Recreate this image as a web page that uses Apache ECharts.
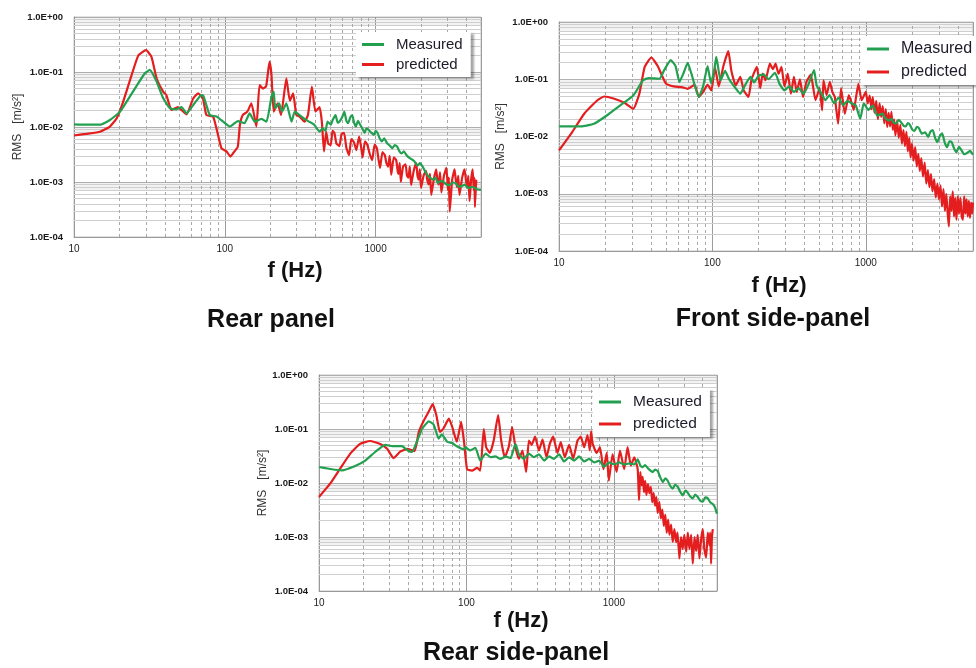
<!DOCTYPE html>
<html lang="en">
<head>
  <meta charset="UTF-8">
  <title>RMS spectra</title>
  <style>
    html,
    body {
      padding: 0;
      margin: 0;
      background: #fff;
    }
  </style>
  <script src="https://cdn.jsdelivr.net/npm/echarts@6.0.0/dist/echarts.min.js"></script>
</head>
<body>
  <div id="demo" style="width:976px;height:668px"></div>
  <script>
    // [f (Hz), RMS (m/s2)]
    const rearMeasured = [[10, 0.0112], [12, 0.011], [14.9, 0.011], [17.3, 0.0134], [20.2, 0.019], [24.6, 0.044], [29.5, 0.095], [31.8, 0.109], [35.3, 0.067], [38.9, 0.034], [43.2, 0.022], [47.9, 0.021], [51.7, 0.023], [55.7, 0.0177], [61.7, 0.025], [66, 0.032], [70, 0.038], [72, 0.037], [75.5, 0.025], [79.5, 0.0165], [88, 0.0155], [97.5, 0.0125], [107.8, 0.0102], [116, 0.0117], [122, 0.0128], [135, 0.0117], [146, 0.0177], [158, 0.0125], [175, 0.014], [189, 0.0125], [204, 0.0355], [211, 0.044], [216, 0.022], [229, 0.027], [240, 0.019], [256, 0.027], [277, 0.0125], [291, 0.019], [313, 0.0165], [338, 0.014], [362, 0.0125], [392, 0.011], [425, 0.0082], [446, 0.0095], [465, 0.0085], [480, 0.0125], [505, 0.011], [520, 0.0135], [543, 0.0165], [560, 0.012], [575, 0.0125], [600, 0.015], [620, 0.019], [640, 0.013], [656, 0.0117], [680, 0.015], [700, 0.0165], [720, 0.012], [740, 0.0102], [765, 0.013], [790, 0.011], [820, 0.0092], [845, 0.0078], [870, 0.0095], [900, 0.0088], [940, 0.0078], [975, 0.0072], [1000, 0.0085], [1030, 0.0078], [1065, 0.0062], [1100, 0.0055], [1140, 0.0062], [1190, 0.0051], [1240, 0.0046], [1290, 0.0041], [1340, 0.0047], [1390, 0.0044], [1440, 0.0036], [1490, 0.0033], [1540, 0.0036], [1600, 0.0031], [1660, 0.0028], [1730, 0.0026], [1800, 0.0024], [1900, 0.002], [1970, 0.0022], [2050, 0.0019], [2120, 0.0016], [2200, 0.00135], [2300, 0.0012], [2400, 0.0011], [2500, 0.0012], [2580, 0.00095], [2700, 0.00105], [2830, 0.001], [2950, 0.0009], [3100, 0.00088], [3250, 0.00098], [3400, 0.00095], [3550, 0.00082], [3750, 0.00085], [3900, 0.0009], [4100, 0.00078], [4400, 0.00082], [4700, 0.00074], [5000, 0.00072]]
    const rearPredicted = [[10, 0.007], [12, 0.0075], [14.9, 0.0082], [17.3, 0.0102], [19.2, 0.0144], [21.2, 0.029], [24.1, 0.088], [26.7, 0.2], [30, 0.25], [32.6, 0.19], [35.3, 0.077], [39, 0.044], [41, 0.038], [44.3, 0.0204], [48.8, 0.023], [55.7, 0.017], [61.7, 0.033], [66.5, 0.041], [71.6, 0.033], [75.5, 0.0165], [83.5, 0.0155], [88, 0.0095], [95, 0.0041], [102.6, 0.0036], [109, 0.0029], [116, 0.0036], [122, 0.0044], [126, 0.011], [131.5, 0.0165], [141, 0.019], [150, 0.027], [162, 0.0102], [170, 0.058], [179, 0.05], [188, 0.055], [198, 0.154], [204, 0.088], [211, 0.019], [224, 0.027], [236, 0.0165], [256, 0.077], [270, 0.03], [284, 0.041], [298, 0.0165], [313, 0.0155], [338, 0.0125], [356, 0.0165], [378, 0.054], [399, 0.019], [425, 0.023], [440, 0.0125], [455, 0.0036], [470, 0.0082], [485, 0.005], [504, 0.0047], [518, 0.0085], [533, 0.0078], [550, 0.005], [575, 0.0045], [595, 0.0075], [618, 0.0078], [640, 0.0042], [667, 0.0031], [690, 0.006], [718, 0.0053], [745, 0.0038], [778, 0.0067], [800, 0.0045], [820, 0.0028], [850, 0.0055], [883, 0.0047], [915, 0.0032], [950, 0.0025], [985, 0.0048], [1020, 0.0041], [1045, 0.0026], [1070, 0.0018], [1110, 0.0035], [1150, 0.0031], [1180, 0.0022], [1210, 0.0019], [1240, 0.003], [1270, 0.00135], [1320, 0.0028], [1370, 0.0025], [1400, 0.0016], [1420, 0.0014], [1445, 0.0022], [1470, 0.001], [1520, 0.0019], [1580, 0.0021], [1615, 0.0013], [1650, 0.0012], [1685, 0.0019], [1720, 0.00088], [1790, 0.0016], [1860, 0.0022], [1895, 0.0013], [1930, 0.0011], [1965, 0.0017], [2000, 0.00078], [2080, 0.0013], [2160, 0.0016], [2200, 0.0011], [2250, 0.0009], [2295, 0.0014], [2340, 0.00058], [2430, 0.0011], [2520, 0.0017], [2570, 0.0011], [2620, 0.0009], [2675, 0.0015], [2730, 0.00065], [2840, 0.0013], [2950, 0.0018], [3020, 0.0007], [3060, 0.0012], [3100, 0.00029], [3220, 0.0011], [3340, 0.0017], [3400, 0.0011], [3470, 0.0008], [3530, 0.0013], [3600, 0.00058], [3750, 0.0012], [3890, 0.0017], [3970, 0.0011], [4050, 0.0008], [4120, 0.0013], [4200, 0.00045], [4300, 0.0011], [4400, 0.0017], [4480, 0.0007], [4520, 0.0012], [4560, 0.00035], [4650, 0.0011]]

    const frontMeasured = [[10, 0.015], [13.9, 0.015], [16.9, 0.0167], [20.6, 0.0235], [25.1, 0.035], [30.5, 0.052], [35.3, 0.096], [38.5, 0.105], [45.2, 0.102], [48.5, 0.144], [53.5, 0.216], [57.5, 0.17], [61, 0.09], [65, 0.13], [69, 0.193], [73, 0.125], [81.5, 0.049], [87, 0.075], [93, 0.17], [98, 0.085], [103, 0.15], [106, 0.246], [113, 0.096], [121, 0.14], [128, 0.102], [142, 0.069], [152, 0.056], [163, 0.078], [177, 0.11], [187, 0.088], [200, 0.115], [216, 0.122], [232, 0.1], [256, 0.13], [274, 0.083], [295, 0.064], [317, 0.075], [340, 0.06], [365, 0.07], [392, 0.056], [420, 0.078], [460, 0.144], [478, 0.078], [515, 0.056], [545, 0.043], [580, 0.053], [620, 0.038], [665, 0.048], [710, 0.035], [760, 0.042], [805, 0.038], [860, 0.035], [920, 0.0204], [970, 0.038], [1040, 0.029], [1110, 0.035], [1190, 0.023], [1280, 0.025], [1340, 0.021], [1410, 0.019], [1470, 0.0204], [1520, 0.0175], [1580, 0.017], [1640, 0.0195], [1690, 0.018], [1760, 0.0155], [1820, 0.015], [1880, 0.0172], [1940, 0.016], [2010, 0.0132], [2080, 0.0125], [2150, 0.0148], [2220, 0.014], [2320, 0.0112], [2440, 0.0118], [2550, 0.0098], [2640, 0.0122], [2730, 0.013], [2830, 0.0095], [2930, 0.008], [3040, 0.0102], [3150, 0.0113], [3270, 0.0078], [3390, 0.0065], [3510, 0.0082], [3630, 0.008], [3760, 0.0062], [3900, 0.0053], [4050, 0.0066], [4200, 0.0058], [4380, 0.0049], [4550, 0.0051], [4780, 0.0056], [5000, 0.0048]]
    const frontPredicted = [[10, 0.0057], [12, 0.0112], [14.6, 0.025], [17.8, 0.043], [19.7, 0.05], [22.7, 0.046], [27, 0.038], [30.5, 0.0306], [33.4, 0.056], [36.2, 0.164], [40, 0.24], [44, 0.17], [49.8, 0.084], [56, 0.075], [63, 0.073], [69, 0.068], [76.5, 0.08], [81.5, 0.049], [87, 0.06], [93, 0.08], [98.5, 0.064], [104, 0.16], [110, 0.075], [118, 0.17], [127, 0.31], [133, 0.14], [142, 0.078], [152, 0.11], [160, 0.064], [172, 0.049], [180, 0.1], [195, 0.164], [205, 0.07], [213, 0.125], [222, 0.096], [237, 0.188], [248, 0.15], [258, 0.188], [270, 0.125], [282, 0.164], [295, 0.075], [310, 0.125], [325, 0.056], [340, 0.11], [355, 0.06], [372, 0.1], [390, 0.049], [410, 0.09], [438, 0.12], [470, 0.043], [500, 0.07], [519, 0.0286], [530, 0.096], [555, 0.053], [583, 0.09], [605, 0.06], [628, 0.049], [660, 0.0167], [690, 0.07], [730, 0.025], [775, 0.053], [805, 0.04], [835, 0.029], [895, 0.083], [940, 0.043], [1000, 0.06], [1030, 0.038], [1060, 0.052], [1090, 0.03], [1110, 0.049], [1140, 0.026], [1170, 0.042], [1200, 0.02], [1230, 0.038], [1260, 0.022], [1290, 0.034], [1320, 0.017], [1350, 0.03], [1380, 0.0146], [1410, 0.026], [1440, 0.015], [1470, 0.027], [1500, 0.013], [1530, 0.02], [1560, 0.0104], [1600, 0.019], [1640, 0.0095], [1680, 0.016], [1720, 0.0075], [1760, 0.013], [1800, 0.0068], [1840, 0.012], [1880, 0.0055], [1920, 0.0095], [1960, 0.0043], [2000, 0.0075], [2050, 0.0038], [2100, 0.0065], [2150, 0.003], [2200, 0.005], [2250, 0.0025], [2300, 0.0042], [2360, 0.002], [2420, 0.0035], [2480, 0.0015], [2540, 0.0026], [2600, 0.0013], [2660, 0.0022], [2720, 0.0011], [2790, 0.0018], [2860, 0.00086], [2930, 0.0015], [3000, 0.0008], [3070, 0.0014], [3140, 0.0006], [3210, 0.0012], [3280, 0.0005], [3350, 0.001], [3420, 0.00045], [3480, 0.00027], [3550, 0.0009], [3620, 0.0005], [3690, 0.0011], [3760, 0.0004], [3830, 0.00085], [3900, 0.00035], [3980, 0.0009], [4060, 0.00045], [4140, 0.00085], [4220, 0.0004], [4300, 0.00035], [4380, 0.0009], [4460, 0.00045], [4540, 0.0008], [4620, 0.0004], [4700, 0.00075], [4780, 0.00038], [4860, 0.0007], [4940, 0.00045], [5000, 0.0007]]

    const rearSideMeasured = [[10, 0.0198], [12.2, 0.018], [14.3, 0.0172], [17.6, 0.0207], [20.6, 0.026], [24, 0.0375], [28.1, 0.051], [31.5, 0.048], [36.5, 0.048], [40, 0.04], [42.7, 0.0375], [46.5, 0.062], [50, 0.1], [55.5, 0.139], [60, 0.12], [64.8, 0.066], [68, 0.08], [74, 0.058], [80, 0.055], [86, 0.048], [96, 0.042], [98.5, 0.046], [106, 0.04], [115, 0.045], [124, 0.026], [135, 0.035], [146, 0.03], [157, 0.031], [170, 0.028], [184, 0.031], [199, 0.029], [215, 0.053], [227, 0.034], [245, 0.028], [265, 0.035], [287, 0.03], [310, 0.034], [336, 0.026], [363, 0.031], [393, 0.028], [425, 0.034], [459, 0.025], [497, 0.03], [537, 0.026], [581, 0.031], [628, 0.025], [679, 0.028], [735, 0.024], [794, 0.026], [859, 0.02], [929, 0.024], [1005, 0.022], [1087, 0.024], [1175, 0.022], [1271, 0.023], [1374, 0.022], [1449, 0.0274], [1510, 0.021], [1567, 0.0196], [1630, 0.0215], [1694, 0.019], [1760, 0.0172], [1832, 0.016], [1900, 0.0178], [1981, 0.0167], [2060, 0.0128], [2142, 0.0104], [2230, 0.0122], [2316, 0.011], [2410, 0.0088], [2505, 0.0079], [2600, 0.0092], [2709, 0.0085], [2820, 0.0068], [2929, 0.0059], [3050, 0.0072], [3167, 0.0066], [3290, 0.0056], [3425, 0.0052], [3560, 0.0061], [3704, 0.0055], [3850, 0.0047], [4005, 0.0045], [4160, 0.0054], [4331, 0.0052], [4500, 0.0044], [4683, 0.0041], [4850, 0.0035], [4990, 0.0027]]
    const rearSidePredicted = [[10, 0.0055], [11.9, 0.0097], [13.9, 0.0184], [16.3, 0.035], [19, 0.053], [22.2, 0.06], [26, 0.053], [29, 0.043], [32, 0.029], [35.5, 0.038], [40, 0.043], [44.5, 0.039], [47.5, 0.088], [51.5, 0.145], [55.5, 0.21], [59, 0.29], [62.5, 0.18], [66, 0.088], [69.5, 0.1], [76, 0.155], [80, 0.11], [86, 0.058], [92, 0.135], [96.5, 0.055], [101, 0.018], [109, 0.017], [118, 0.019], [124, 0.017], [131, 0.1], [136, 0.046], [144, 0.036], [153, 0.061], [164, 0.18], [172, 0.061], [182, 0.03], [194, 0.048], [204, 0.109], [215, 0.046], [227, 0.028], [240, 0.04], [254, 0.016], [265, 0.061], [277, 0.051], [292, 0.072], [310, 0.04], [328, 0.064], [349, 0.03], [368, 0.054], [387, 0.072], [414, 0.036], [436, 0.057], [464, 0.03], [497, 0.051], [529, 0.028], [566, 0.061], [596, 0.072], [628, 0.046], [662, 0.077], [686, 0.04], [700, 0.09], [717, 0.054], [763, 0.036], [804, 0.046], [849, 0.018], [894, 0.036], [923, 0.011], [979, 0.034], [1042, 0.016], [1099, 0.04], [1175, 0.018], [1237, 0.046], [1303, 0.021], [1374, 0.03], [1449, 0.018], [1480, 0.0048], [1510, 0.016], [1540, 0.009], [1567, 0.013], [1600, 0.0068], [1630, 0.011], [1660, 0.006], [1700, 0.0095], [1740, 0.0065], [1780, 0.0085], [1820, 0.0044], [1860, 0.0065], [1900, 0.0038], [1940, 0.0055], [1980, 0.0028], [2030, 0.0045], [2080, 0.0022], [2130, 0.0032], [2180, 0.0016], [2230, 0.0026], [2280, 0.0012], [2330, 0.0021], [2380, 0.0011], [2440, 0.0017], [2505, 0.00081], [2570, 0.0014], [2640, 0.0008], [2700, 0.0012], [2780, 0.0004], [2850, 0.001], [2929, 0.0006], [3000, 0.0011], [3090, 0.00053], [3170, 0.0012], [3250, 0.0006], [3340, 0.0011], [3425, 0.00032], [3520, 0.001], [3610, 0.00055], [3700, 0.0011], [3800, 0.0004], [3900, 0.0009], [4005, 0.0014], [4100, 0.0006], [4220, 0.00042], [4330, 0.0012], [4450, 0.0007], [4500, 0.0012], [4560, 0.00032], [4620, 0.001], [4683, 0.0014]]

    const panelTitles = ['Rear panel', 'Front side-panel', 'Rear side-panel']
    const legendNames = ['Measured', 'predicted']
    const xRange = [10, 5000]
    const yRange = [1e-4, 1]
    const xMinorLines = [20, 30, 40, 50, 60, 70, 80, 90, 200, 300, 400, 500, 600, 700, 800, 900, 2000, 3000, 4000]
    const yMinorLines = [2e-4, 3e-4, 4e-4, 5e-4, 6e-4, 7e-4, 8e-4, 9e-4, 2e-3, 3e-3, 4e-3, 5e-3, 6e-3, 7e-3, 8e-3, 9e-3, 2e-2, 3e-2, 4e-2, 5e-2, 6e-2, 7e-2, 8e-2, 9e-2, 0.2, 0.3, 0.4, 0.5, 0.6, 0.7, 0.8, 0.9]
    const yBands = [[7e-4, 1e-3], [7e-3, 1e-2], [7e-2, 1e-1], [0.7, 1]]

    const GREEN = '#22a050'
    const RED = '#e41e1e'
    const FONT = 'Liberation Sans'

    const grids = [
      { left: 74, top: 17, width: 407, height: 220 },
      { left: 559, top: 22, width: 424, height: 229 },
      { left: 319, top: 375, width: 398, height: 216 }
    ]
    const nameGaps = [50, 52, 48]
    const legendPos = [
      { left: 356, top: 32, fontSize: 15, gap: 5 },
      { left: 861, top: 36, fontSize: 16, gap: 7 },
      { left: 593, top: 389, fontSize: 15.5, gap: 6 }
    ]
    const labelPos = [
      { axis: [295, 271], title: [271, 320] },
      { axis: [779, 286], title: [773, 319] },
      { axis: [521, 621], title: [516, 653] }
    ]

    function expLabel (v) {
      const e = Math.round(Math.log10(v))
      return '1.0E' + (e < 0 ? '-' : '+') + String(Math.abs(e)).padStart(2, '0')
    }

    const demo = document.getElementById('demo')
    const chart = echarts.init(demo)

    const option = {
      animation: false,
      backgroundColor: '#fff',
      grid: grids.map(g => Object.assign({ show: true, borderColor: '#c4c4c4', borderWidth: 1, backgroundColor: '#fff' }, g)),
      xAxis: grids.map((g, i) => ({
        type: 'log',
        logBase: 10,
        gridIndex: i,
        min: xRange[0],
        max: xRange[1],
        axisLine: { lineStyle: { color: '#9a9a9a' } },
        axisTick: { show: false },
        axisLabel: {
          color: '#222',
          fontSize: 10,
          fontFamily: FONT,
          margin: 7,
          formatter: v => {
            const e = Math.log10(v)
            return Math.abs(e - Math.round(e)) < 1e-6 ? String(Math.round(v)) : ''
          }
        },
        splitLine: { show: true, lineStyle: { color: '#9c9c9c', width: 1 } }
      })),
      yAxis: grids.map((g, i) => ({
        type: 'log',
        logBase: 10,
        gridIndex: i,
        min: yRange[0],
        max: yRange[1],
        name: 'RMS   [m/s\u00b2]',
        nameLocation: 'middle',
        nameGap: nameGaps[i],
        nameTextStyle: { color: '#333', fontSize: 12, fontFamily: FONT },
        axisLine: { show: true, lineStyle: { color: '#9a9a9a' } },
        axisTick: { show: false },
        axisLabel: { color: '#1a1a1a', fontSize: 9.5, fontWeight: 'bold', fontFamily: FONT, margin: 11, formatter: expLabel },
        splitLine: { show: true, lineStyle: { color: '#b8b8b8', width: 1 } }
      })),
      legend: legendPos.map(p => ({
        data: legendNames,
        orient: 'vertical',
        left: p.left,
        top: p.top,
        icon: 'rect',
        itemWidth: 22,
        itemHeight: 3,
        itemGap: p.gap,
        padding: [5, 8, 5, 6],
        backgroundColor: '#fff',
        shadowColor: 'rgba(0,0,0,0.35)',
        shadowBlur: 2,
        shadowOffsetX: 3,
        shadowOffsetY: 2,
        textStyle: { color: '#1c1c2a', fontSize: p.fontSize, fontFamily: FONT, padding: [0, 0, 0, 7] }
      })),
      graphic: labelPos.flatMap((p, i) => [
        { type: 'text', x: p.axis[0], y: p.axis[1], style: { text: 'f (Hz)', fill: '#111', font: 'bold 22px "Liberation Sans"', textAlign: 'center', textVerticalAlign: 'middle' } },
        { type: 'text', x: p.title[0], y: p.title[1], style: { text: panelTitles[i], fill: '#111', font: 'bold 25px "Liberation Sans"', textAlign: 'center', textVerticalAlign: 'middle' } }
      ]),
      series: []
    }

    const panelData = [
      [rearMeasured, rearPredicted],
      [frontMeasured, frontPredicted],
      [rearSideMeasured, rearSidePredicted]
    ]

    panelData.forEach(([measured, predicted], i) => {
      // minor grid: 2..9 of each decade, placed through the log axes
      option.series.push({
        type: 'lines',
        coordinateSystem: 'cartesian2d',
        xAxisIndex: i,
        yAxisIndex: i,
        silent: true,
        z: 1,
        lineStyle: { color: '#cfcfcf', width: 1, opacity: 1 },
        data: yMinorLines.map(v => ({ coords: [[xRange[0], v], [xRange[1], v]] }))
      })
      option.series.push({
        type: 'lines',
        coordinateSystem: 'cartesian2d',
        xAxisIndex: i,
        yAxisIndex: i,
        silent: true,
        z: 1,
        lineStyle: { color: '#a8a8a8', width: 1, type: [3, 3], opacity: 1 },
        data: xMinorLines.map(v => ({ coords: [[v, yRange[0]], [v, yRange[1]]] }))
      })
      option.series.push({
        name: 'predicted',
        type: 'line',
        xAxisIndex: i,
        yAxisIndex: i,
        data: predicted,
        showSymbol: false,
        smooth: 0.15,
        lineStyle: { color: RED, width: 2.2 },
        itemStyle: { color: RED },
        z: 3,
        markArea: {
          silent: true,
          z: 1,
          itemStyle: { color: 'rgba(0,0,0,0.05)' },
          data: yBands.map(b => [{ coord: [xRange[0], b[0]] }, { coord: [xRange[1], b[1]] }])
        }
      })
      option.series.push({
        name: 'Measured',
        type: 'line',
        xAxisIndex: i,
        yAxisIndex: i,
        data: measured,
        showSymbol: false,
        smooth: 0.15,
        lineStyle: { color: GREEN, width: 2.2 },
        itemStyle: { color: GREEN },
        z: 4
      })
    })

    chart.setOption(option)
  </script>
</body>
</html>
